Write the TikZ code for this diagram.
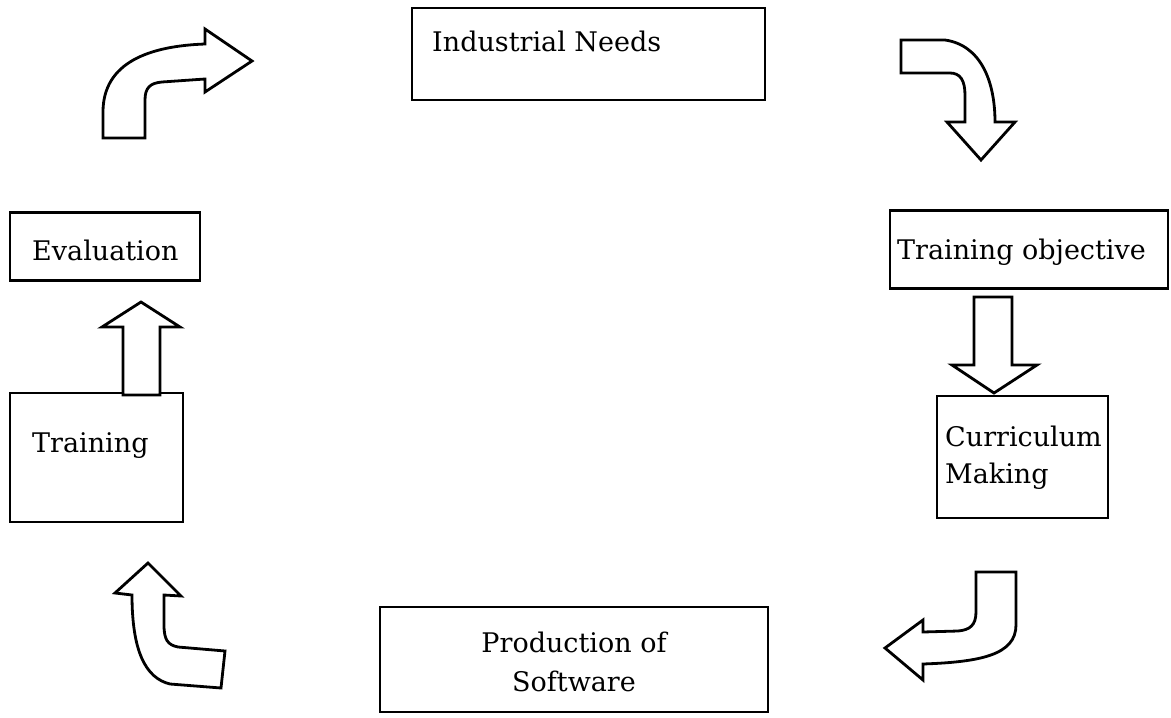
\documentclass[tikz,border=0pt]{standalone}
\usepackage{fontspec}
\setmainfont{DejaVu Serif}
\begin{document}
\begin{tikzpicture}[x=1pt,y=-1pt,
  box/.style={draw=black,line width=2.4pt,inner sep=0pt,rectangle},
  lbl/.style={inner sep=0pt,anchor=base west,font=\fontsize{27}{31}\selectfont},
  blockarrow/.style={draw=black,line width=2.8pt,fill=white,line join=miter}]
\useasboundingbox[fill=white] (0,0) rectangle (1171,718);
% boxes
\node[box,minimum width=353pt,minimum height=92pt] (ind) at (588.5,54) {};
\node[box,minimum width=278pt,minimum height=78pt] (obj) at (1029,249.5) {};
\node[box,minimum width=171pt,minimum height=122pt] (cur) at (1022.5,457) {};
\node[box,minimum width=388pt,minimum height=105pt] (prod) at (574,659.5) {};
\node[box,minimum width=190pt,minimum height=68pt] (eval) at (105,246.5) {};
\node[box,minimum width=173pt,minimum height=129pt] (train) at (96.5,457.5) {};
% labels
\node[lbl] (tind) at (432,51) {Industrial Needs};
\node[lbl] (tobj) at (897,259) {Training objective};
\node[lbl] (tcur1) at (945,446) {Curriculum};
\node[lbl] (tcur2) at (945,483) {Making};
\node[lbl,anchor=base] (tprod1) at (574,652) {Production of};
\node[lbl,anchor=base] (tprod2) at (574,691) {Software};
\node[lbl] (teval) at (32,260) {Evaluation};
\node[lbl] (ttrain) at (32,452) {Training};
% top-left curved arrow
\draw[blockarrow] (103,138) -- (103,112) .. controls (103,62) and (150,46) .. (205,44)
  -- (205,29) -- (252,61) -- (205,92) -- (205,79) -- (162,82)
  .. controls (150,83) and (145,88) .. (145,100) -- (145,138) -- cycle;
% top-right curved arrow
\draw[blockarrow] (901,40) -- (945,40) .. controls (980,45) and (995,80) .. (995,122)
  -- (1015,122) -- (981,160) -- (947,122) -- (965,122) -- (965,95)
  .. controls (965,80) and (960,73) .. (950,73) -- (901,73) -- cycle;
% right straight arrow (down)
\draw[blockarrow] (974,297) -- (1012,297) -- (1012,365) -- (1037,365) -- (994,393)
  -- (952,365) -- (974,365) -- cycle;
% bottom-right curved arrow
\draw[blockarrow] (976,572) -- (1016,572) -- (1016,625) .. controls (1016,655) and (980,662) .. (923,664)
  -- (923,680) -- (885,648) -- (923,620) -- (923,632) -- (958,631)
  .. controls (970,630) and (976,625) .. (976,612) -- cycle;
% bottom-left curved arrow
\draw[blockarrow] (148,563) -- (181,596) -- (164,595) -- (164,625)
  .. controls (164,640) and (168,645) .. (178,647) -- (225,651) -- (221,688)
  -- (170,684) .. controls (145,678) and (132,650) .. (132,595) -- (115,593) -- cycle;
% left straight arrow (up)
\draw[blockarrow] (123,395) -- (123,327) -- (102,327) -- (141,302) -- (180,327)
  -- (160,327) -- (160,395) -- cycle;
\end{tikzpicture}
\end{document}
